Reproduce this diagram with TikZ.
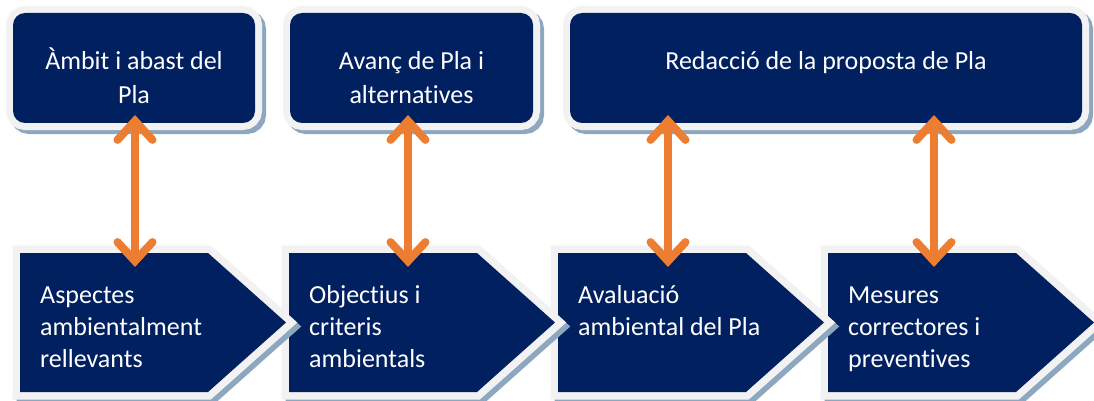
\documentclass[tikz,border=0pt]{standalone}
\usepackage{fontspec}
\setmainfont{Carlito}[Ligatures=NoCommon]
\usetikzlibrary{arrows.meta}
\definecolor{navyc}{HTML}{002060}
\definecolor{bgray}{HTML}{F2F2F2}
\definecolor{shadc}{HTML}{8EA7C0}
\definecolor{orangec}{HTML}{ED7D31}
\tikzset{
  boxfill/.style={fill=navyc, preaction={draw=bgray, line width=14pt}},
  boxshadow/.style={fill=shadc, draw=shadc, line width=14pt},
  pentfill/.style={fill=navyc, line join=miter, preaction={draw=bgray, line width=15pt, line join=miter}},
  pentshadow/.style={fill=shadc, draw=shadc, line width=15pt, line join=miter},
  toptext/.style={text=white, font=\fontsize{26}{33}\selectfont, align=center, anchor=base, inner sep=0pt},
  bottext/.style={text=white, font=\fontsize{26}{32}\selectfont, align=left, anchor=base west, inner sep=0pt},
  dblarrow/.style={draw=orangec, line width=8pt,
    {Straight Barb[length=19pt,width=35pt,line cap=round,line join=miter]}-{Straight Barb[length=19pt,width=35pt,line cap=round,line join=miter]}},
}
\begin{document}
\begin{tikzpicture}[x=1pt,y=-1pt]
\useasboundingbox (0,0) rectangle (1094,401);
% top boxes
\foreach \l/\r in {13/255, 290/533, 570/1082}{
  \path[boxshadow, rounded corners=12pt] (\l+4,17) rectangle (\r+4,127);
  \path[boxfill, rounded corners=12pt] (\l,13) rectangle (\r,123);
}
% pentagons (drawn right to left)
\foreach \l in {828, 558, 289, 20}{
  \path[pentshadow] (\l+4,257) -- (\l+192,257) -- (\l+270,326.5) -- (\l+192,396) -- (\l+4,396) -- cycle;
  \path[pentfill] (\l,253) -- (\l+188,253) -- (\l+266,322.5) -- (\l+188,392) -- (\l,392) -- cycle;
}
% texts (anchor = baseline of last line)
\node[toptext] (t1) at (134,103) {Àmbit i abast del\\Pla};
\node[toptext] (t2) at (411.5,103) {Avanç de Pla i\\alternatives};
\node[toptext] (t3) at (826,70) {Redacció de la proposta de Pla};
\node[bottext] (p1) at (40,367) {Aspectes\\ambientalment\\rellevants};
\node[bottext] (p2) at (309,367) {Objectius i\\criteris\\ambientals};
\node[bottext] (p3) at (578,335) {Avaluació\\ambiental del Pla};
\node[bottext] (p4) at (848,367) {Mesures\\correctores i\\preventives};
% arrow ends
\coordinate (a1t) at (135,115); \coordinate (a1b) at (135,267);
\coordinate (a2t) at (408,115); \coordinate (a2b) at (408,267);
\coordinate (a3t) at (668,115); \coordinate (a3b) at (668,267);
\coordinate (a4t) at (934,115); \coordinate (a4b) at (934,267);
\draw[dblarrow] (a1t) -- (a1b);
\draw[dblarrow] (a2t) -- (a2b);
\draw[dblarrow] (a3t) -- (a3b);
\draw[dblarrow] (a4t) -- (a4b);
\end{tikzpicture}
\end{document}
